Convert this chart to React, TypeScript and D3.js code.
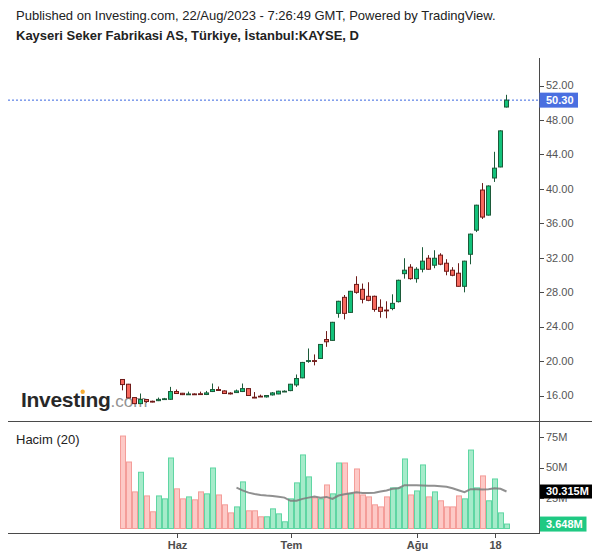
import { useEffect, useRef, useState } from 'react';
import * as d3 from 'd3';

// trading days, 18 May - 22 Aug 2023
const dates = [
  '2023-05-18', '2023-05-22', '2023-05-23', '2023-05-24', '2023-05-25', '2023-05-26', '2023-05-29', '2023-05-30', '2023-05-31',
  '2023-06-01', '2023-06-02', '2023-06-05', '2023-06-06', '2023-06-07', '2023-06-08', '2023-06-09', '2023-06-12', '2023-06-13',
  '2023-06-14', '2023-06-15', '2023-06-16', '2023-06-19', '2023-06-20', '2023-06-21', '2023-06-22', '2023-06-23', '2023-06-26',
  '2023-06-27', '2023-07-03', '2023-07-04', '2023-07-05', '2023-07-06', '2023-07-07', '2023-07-10', '2023-07-11', '2023-07-12',
  '2023-07-13', '2023-07-14', '2023-07-17', '2023-07-18', '2023-07-19', '2023-07-20', '2023-07-21', '2023-07-24', '2023-07-25',
  '2023-07-26', '2023-07-27', '2023-07-28', '2023-07-31', '2023-08-01', '2023-08-02', '2023-08-03', '2023-08-04', '2023-08-07',
  '2023-08-08', '2023-08-09', '2023-08-10', '2023-08-11', '2023-08-14', '2023-08-15', '2023-08-16', '2023-08-17', '2023-08-18',
  '2023-08-21', '2023-08-22',
];

const opens = [
  17.86, 17.31, 15.76, 15.06, 15.53, 15.33, 15.40, 15.58, 15.56, 16.46,
  16.26, 16.12, 16.18, 16.20, 16.12, 16.46, 16.69, 16.53, 16.28, 16.34,
  16.46, 16.80, 15.80, 15.92, 15.84, 16.07, 16.18, 16.45, 16.57, 17.23,
  18.05, 19.98, 20.05, 20.30, 22.50, 22.40, 25.54, 27.40, 25.65, 28.90,
  28.33, 27.52, 27.52, 26.24, 25.92, 26.10, 26.90, 30.15, 30.90, 29.57,
  30.66, 31.94, 31.13, 32.30, 31.36, 30.55, 30.20, 28.68, 32.40, 35.20,
  39.86, 36.95, 41.26, 42.54, 49.50,
];
const highs = [
  17.90, 17.35, 15.80, 16.23, 15.60, 15.40, 15.76, 15.72, 17.00, 16.70,
  16.30, 16.45, 16.25, 16.45, 16.53, 17.39, 17.04, 16.60, 16.38, 16.69,
  17.39, 16.85, 16.40, 16.10, 16.05, 16.40, 16.55, 16.60, 17.35, 18.44,
  19.90, 21.46, 20.77, 21.95, 23.48, 24.55, 27.00, 27.67, 28.15, 29.85,
  29.00, 29.15, 27.60, 27.17, 26.94, 27.75, 29.45, 31.94, 31.25, 30.90,
  33.22, 32.30, 32.87, 32.52, 31.83, 30.90, 31.36, 31.65, 34.80, 38.15,
  40.67, 40.40, 44.30, 46.80, 50.92,
];
const lows = [
  16.60, 15.70, 15.00, 15.00, 15.15, 15.20, 15.35, 15.55, 15.50, 16.20,
  16.05, 16.10, 16.08, 16.08, 16.05, 16.40, 16.55, 16.20, 16.12, 16.30,
  16.40, 15.95, 15.70, 15.85, 15.76, 16.00, 16.15, 16.40, 16.50, 17.00,
  18.00, 19.80, 19.50, 20.25, 21.65, 22.35, 25.03, 24.84, 25.60, 27.82,
  26.70, 26.95, 25.73, 25.03, 24.97, 25.90, 26.80, 29.57, 29.45, 29.10,
  30.30, 30.60, 30.78, 31.13, 29.96, 29.85, 28.65, 27.98, 31.24, 34.98,
  36.50, 36.90, 40.80, 42.50, 49.45,
];
const closes = [
  17.27, 15.72, 15.06, 15.53, 15.30, 15.28, 15.55, 15.62, 16.46, 16.23,
  16.10, 16.18, 16.12, 16.12, 16.30, 16.69, 16.58, 16.23, 16.23, 16.53,
  16.80, 16.00, 15.74, 15.86, 16.00, 16.30, 16.50, 16.50, 17.31, 17.97,
  19.84, 20.05, 19.98, 21.93, 22.24, 24.50, 26.94, 25.54, 28.10, 27.98,
  27.17, 27.05, 26.00, 25.77, 25.88, 26.70, 29.38, 30.55, 29.57, 30.66,
  31.60, 30.66, 31.94, 31.25, 30.43, 29.96, 28.68, 31.60, 34.74, 38.10,
  36.72, 40.33, 42.40, 46.73, 50.30,
];

// volume, millions
const volumes = [
  75.8, 54.5, 30.0, 46.1, 26.7, 13.7, 26.7, 24.3, 57.8, 32.5,
  24.3, 25.9, 23.5, 30.0, 28.4, 49.6, 27.5, 19.4, 12.8, 17.7,
  38.2, 14.5, 14.5, 9.6, 9.6, 16.1, 12.0, 5.5, 24.3, 37.4,
  60.3, 42.3, 25.1, 24.3, 35.7, 28.4, 53.7, 53.7, 28.4, 48.8,
  27.5, 25.9, 19.4, 17.7, 25.9, 33.3, 33.3, 57.0, 27.5, 30.8,
  52.1, 25.9, 30.0, 22.7, 17.7, 17.7, 26.7, 24.3, 64.3, 33.3,
  43.1, 22.7, 40.6, 12.8, 3.648,
];

// Hacim (20) moving average, from 2023-06-15 on
const maDates = dates.slice(19);
const volumeMa = [
  33.5, 31.3, 29.4, 28.3, 27.5, 27.0, 26.7, 26.0, 25.3, 22.7,
  22.7, 24.3, 25.3, 26.2, 25.3, 25.9, 24.3, 27.0, 28.1, 28.9,
  29.8, 29.2, 29.2, 29.4, 30.3, 31.1, 32.5, 33.0, 35.5, 35.5,
  35.5, 35.2, 35.0, 35.0, 34.7, 34.2, 33.0, 31.4, 29.8, 32.2,
  32.2, 31.9, 32.2, 33.0, 32.5, 30.315,
];

const priceTicks = [16, 20, 24, 28, 32, 36, 40, 44, 48, 52];
const volumeTicks = [25, 50, 75];
const xTicks = [
  { date: '2023-06-01', label: 'Haz' },
  { date: '2023-07-03', label: 'Tem' },
  { date: '2023-08-01', label: 'Ağu' },
  { date: '2023-08-18', label: '18' },
];

const FONT = '"Liberation Sans", Arial, Helvetica, sans-serif';
const AXIS = '#4a4a4a';

export default function App() {
  const logoRef = useRef<SVGTextElement>(null);
  const [dotX, setDotX] = useState<number | null>(null);

  useEffect(() => {
    const el = logoRef.current;
    if (!el) return;
    const a = el.getStartPositionOfChar(6);
    const b = el.getEndPositionOfChar(6);
    setDotX((a.x + b.x) / 2);
  }, []);

  const x = d3.scalePoint<string>().domain(dates).range([122.5, 506.5]);
  const y = d3.scaleLinear().domain([16, 52]).range([395.5, 85.5]);
  const yv = d3.scaleLinear().domain([0, 75]).range([528.5, 437]);

  const candles = dates.map((d, i) => ({
    date: d,
    o: opens[i],
    h: highs[i],
    l: lows[i],
    c: closes[i],
    v: volumes[i],
    up: closes[i] >= opens[i],
  }));

  const maLine = d3.line<number>()
    .x((_, i) => x(maDates[i])!)
    .y((v) => yv(v));

  const lastClose = closes[closes.length - 1];
  const lastMa = volumeMa[volumeMa.length - 1];
  const lastVol = volumes[volumes.length - 1];
  const priceY = y(lastClose);

  return (
    <svg width={600} height={558} style={{ position: 'absolute', left: 0, top: 0, background: '#fff' }} fontFamily={FONT}>
      <text x={16} y={20} fontSize={13} fill="#222">
        Published on Investing.com, 22/Aug/2023 - 7:26:49 GMT, Powered by TradingView.
      </text>
      <text x={16} y={40} fontSize={13} fontWeight="bold" fill="#222">
        Kayseri Seker Fabrikasi AS, Türkiye, İstanbul:KAYSE, D
      </text>

      {/* watermark */}
      <g opacity={0.92}>
        <text ref={logoRef} x={21} y={406.5} fontSize={21} fontWeight="bold" fill="#151515" letterSpacing={-0.3}>
          Investıng<tspan fontSize={17} fontWeight="normal" fill="#8a8a8a" letterSpacing={0}>.com</tspan>
        </text>
        {dotX !== null && <circle cx={dotX} cy={391.8} r={2.2} fill="#f5a623" />}
      </g>

      {/* current price line */}
      <line x1={8} x2={539} y1={priceY} y2={priceY} stroke="#3a66e0" strokeWidth={1} strokeDasharray="2,2" />

      {/* candles */}
      {candles.map((d) => {
        const cx = x(d.date)!;
        const top = y(Math.max(d.o, d.c));
        const bot = y(Math.min(d.o, d.c));
        const edge = d.up ? '#1c5a39' : '#6f1b19';
        return (
          <g key={d.date}>
            <line x1={cx} x2={cx} y1={y(d.h)} y2={y(d.l)} stroke={edge} strokeWidth={1} />
            <rect
              x={cx - 2}
              y={top}
              width={4}
              height={Math.max(bot - top, 0.8)}
              fill={d.up ? '#13c27b' : '#f7695e'}
              stroke={edge}
              strokeWidth={1}
            />
          </g>
        );
      })}

      {/* volume */}
      {candles.map((d) => {
        const cx = x(d.date)!;
        return (
          <rect
            key={'v' + d.date}
            x={cx - 2}
            y={yv(d.v)}
            width={5}
            height={yv(0) - yv(d.v)}
            fill={d.up ? '#a6ebca' : '#fdc9c6'}
            stroke={d.up ? '#5fd6a3' : '#f49d99'}
            strokeWidth={1}
          />
        );
      })}
      <path d={maLine(volumeMa) ?? ''} fill="none" stroke="#7d7d7d" strokeOpacity={0.85} strokeWidth={2} />

      <text x={16} y={444} fontSize={13} fill="#222">Hacim (20)</text>

      {/* frame */}
      <line x1={8} x2={592} y1={421.5} y2={421.5} stroke={AXIS} strokeWidth={1} />
      <line x1={8} x2={540} y1={533.5} y2={533.5} stroke={AXIS} strokeWidth={1} />
      <line x1={539.5} x2={539.5} y1={58} y2={534} stroke={AXIS} strokeWidth={1} />

      {/* price axis */}
      {priceTicks.map((t) => (
        <g key={'p' + t}>
          <line x1={540} x2={544} y1={Math.round(y(t)) + 0.5} y2={Math.round(y(t)) + 0.5} stroke={AXIS} />
          <text x={546} y={y(t)} dy="0.35em" fontSize={11} fill="#555">{t.toFixed(2)}</text>
        </g>
      ))}
      <rect x={539.5} y={priceY - 7.5} width={38.5} height={15} fill="#4a6fe0" />
      <text x={546} y={priceY} dy="0.36em" fontSize={11} fontWeight="bold" fill="#fff">{lastClose.toFixed(2)}</text>

      {/* volume axis */}
      {volumeTicks.map((t) => (
        <g key={'v' + t}>
          <line x1={540} x2={544} y1={Math.round(yv(t)) + 0.5} y2={Math.round(yv(t)) + 0.5} stroke={AXIS} />
          <text x={546} y={yv(t)} dy="0.35em" fontSize={11} fill="#555">{`${t}M`}</text>
        </g>
      ))}
      <rect x={540} y={yv(lastMa) - 7} width={52} height={14} fill="#000" />
      <text x={546} y={yv(lastMa)} dy="0.36em" fontSize={11} fontWeight="bold" fill="#fff">{lastMa.toFixed(3)}M</text>
      <rect x={540} y={yv(lastVol) - 7.5} width={46.5} height={15} fill="#1fc983" />
      <text x={546} y={yv(lastVol)} dy="0.36em" fontSize={11} fontWeight="bold" fill="#fff">{lastVol.toFixed(3)}M</text>

      {/* time axis */}
      {xTicks.map((t) => {
        const tx = Math.round(x(t.date)!) + 0.5;
        return (
          <g key={t.label}>
            <line x1={tx} x2={tx} y1={534} y2={538} stroke={AXIS} />
            <text x={tx} y={549} textAnchor="middle" fontSize={11} fontWeight="bold" fill="#4d4d4d">{t.label}</text>
          </g>
        );
      })}
    </svg>
  );
}
